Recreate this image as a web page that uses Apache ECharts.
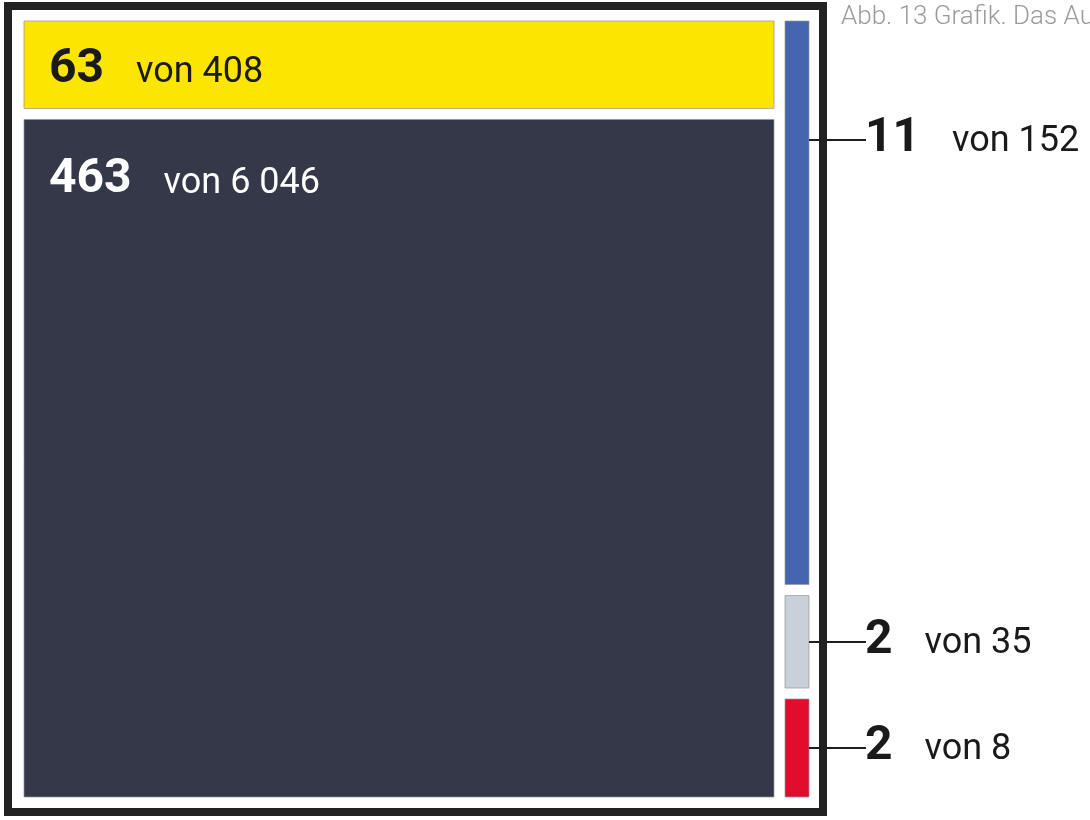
<!DOCTYPE html>
<html><head><meta charset="utf-8">
<script src="https://cdn.jsdelivr.net/npm/echarts@6/dist/echarts.min.js"></script>
<style>html,body{margin:0;padding:0;background:#fff;overflow:hidden}#c{width:1090px;height:820px}</style>
</head><body><div id="c"></div>
<script>
// ---- data ----
const titleText = 'Abb. 13 Grafik. Das Au';
const leftCounts = [63, 463];
const leftTotals = ['408', '6 046'];
const rightCounts = [11, 2, 2];
const rightTotals = ['152', '35', '8'];

// ---- styles ----
const leftColors = ['#FCE500', '#353849'];
const leftTextColors = ['#1a1a1a', '#ffffff'];
const rightColors = ['#4466AE', '#C8D0DA', '#E20C2D'];
const FONT = 'Roboto';

const measureCtx = document.createElement('canvas').getContext('2d');
function textWidth(t, font) { measureCtx.font = font; return measureCtx.measureText(t).width; }
function sum(a) { return a.reduce((s, v) => s + v, 0); }
function stackData(counts) {
  let acc = 0;
  return counts.map((v, i) => { const d = [0, acc, acc + v, v, i]; acc += v; return d; });
}

const GAP = 11;
const NUM_SIZE = 48, VON_SIZE = 36, NUM_WEIGHT = 700;

function makeRender(counts, totals, colors, textColors, side) {
  const total = sum(counts);
  return function (params, api) {
    const i = api.value(4);
    const start = api.value(1), end = api.value(2);
    const p0 = api.coord([0, start]);
    const p1 = api.coord([0, end]);
    const cs = params.coordSys;
    let top = p0[1], bot = p1[1];
    if (start > 0) top += GAP / 2;
    if (end < total) bot -= GAP / 2;
    const x = cs.x, w = cs.width;
    const center = (top + bot) / 2;
    const children = [{
      type: 'rect',
      shape: { x: x, y: top, width: w, height: bot - top },
      style: { fill: colors[i], stroke: 'rgba(150,150,150,0.7)', lineWidth: 1 }
    }];
    const numStr = String(api.value(3));
    const vonStr = 'von ' + totals[i];
    const numFont = NUM_WEIGHT + ' ' + NUM_SIZE + 'px ' + FONT;
    let baseline, numX, tc;
    if (side === 'left') {
      const c = Math.min(center + 2, top + 58);
      baseline = c + 0.355 * NUM_SIZE;
      numX = x + 25;
      tc = textColors[i];
    } else {
      const L = Math.round(Math.min(center, top + 119));
      children.push({
        type: 'line',
        shape: { x1: x + w, y1: L, x2: 866, y2: L },
        style: { stroke: '#1e1e1e', lineWidth: 2 }
      });
      baseline = L + 13;
      numX = 865;
      tc = '#1a1a1a';
    }
    const vonX = numX + textWidth(numStr, numFont) + 32;
    children.push({
      type: 'text',
      style: { text: numStr, x: numX, y: baseline - 0.292 * NUM_SIZE, fill: tc,
        fontFamily: FONT, fontSize: NUM_SIZE, fontWeight: NUM_WEIGHT, align: 'left', verticalAlign: 'middle' }
    });
    children.push({
      type: 'text',
      style: { text: vonStr, x: vonX, y: baseline - 0.292 * VON_SIZE, fill: tc,
        fontFamily: FONT, fontSize: VON_SIZE, fontWeight: 'normal', align: 'left', verticalAlign: 'middle' }
    });
    return { type: 'group', children: children };
  };
}

const chart = echarts.init(document.getElementById('c'), null, { renderer: 'canvas' });
chart.setOption({
  animation: false,
  backgroundColor: '#ffffff',
  grid: [
    { left: 24, top: 21, width: 750, height: 776 },
    { left: 785, top: 21, width: 24, height: 776 }
  ],
  xAxis: [
    { gridIndex: 0, type: 'category', data: ['A'], show: false },
    { gridIndex: 1, type: 'category', data: ['B'], show: false }
  ],
  yAxis: [
    { gridIndex: 0, type: 'value', min: 0, max: sum(leftCounts), inverse: true, show: false },
    { gridIndex: 1, type: 'value', min: 0, max: sum(rightCounts), inverse: true, show: false }
  ],
  graphic: [
    { type: 'rect', z: 100, silent: true, shape: { x: 8, y: 6, width: 815, height: 806 },
      style: { fill: 'none', stroke: '#222222', lineWidth: 8 } },
    { type: 'text', z: 100, style: { text: titleText, x: 841, y: 25 - 0.292 * 26,
      fontFamily: FONT, fontSize: 26, fontWeight: 300, fill: '#9b9b9b', verticalAlign: 'middle', align: 'left' } }
  ],
  series: [
    { type: 'custom', xAxisIndex: 0, yAxisIndex: 0, encode: { x: 0, y: [1, 2] },
      renderItem: makeRender(leftCounts, leftTotals, leftColors, leftTextColors, 'left'),
      data: stackData(leftCounts) },
    { type: 'custom', xAxisIndex: 1, yAxisIndex: 1, encode: { x: 0, y: [1, 2] },
      renderItem: makeRender(rightCounts, rightTotals, rightColors, null, 'right'),
      data: stackData(rightCounts) }
  ]
});
</script></body></html>
